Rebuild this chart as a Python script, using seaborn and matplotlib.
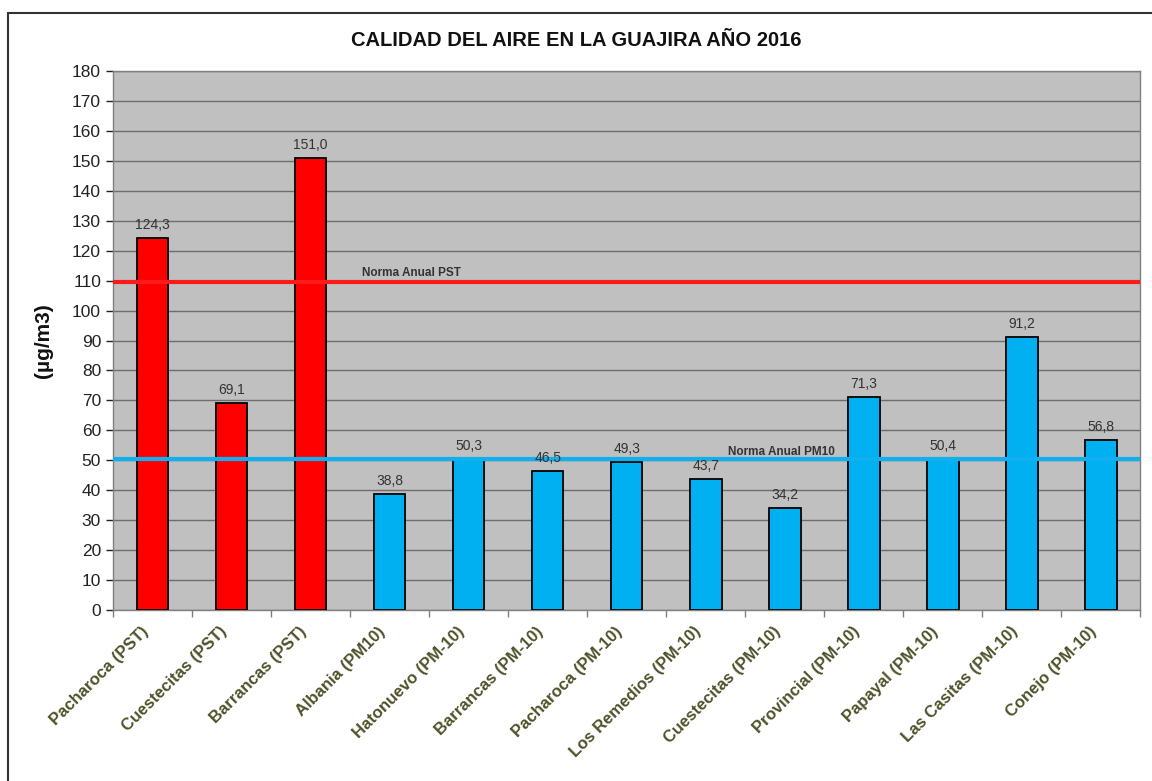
import matplotlib
matplotlib.use("Agg")
import matplotlib.pyplot as plt
import matplotlib.transforms as mtrans
import seaborn as sns
import pandas as pd
from matplotlib.patches import Rectangle

stations = ["Pacharoca (PST)", "Cuestecitas (PST)", "Barrancas (PST)", "Albania (PM10)",
            "Hatonuevo (PM-10)", "Barrancas (PM-10)", "Pacharoca (PM-10)", "Los Remedios (PM-10)",
            "Cuestecitas (PM-10)", "Provincial (PM-10)", "Papayal (PM-10)", "Las Casitas (PM-10)",
            "Conejo (PM-10)"]
values = [124.3, 69.1, 151.0, 38.8, 50.3, 46.5, 49.3, 43.7, 34.2, 71.3, 50.4, 91.2, 56.8]
pollutant = ["PST", "PST", "PST"] + ["PM10"] * 10
norma_pst = 109.5
norma_pm10 = 50.5

df = pd.DataFrame({"station": stations, "value": values, "pollutant": pollutant})

sns.set_theme(style="white")
plt.rcParams['font.family'] = ['Liberation Sans', 'DejaVu Sans']

fig = plt.figure(figsize=(11.52, 7.81), dpi=100)
ax = fig.add_axes([0.098, 0.219, 0.892, 0.690])
ax.set_facecolor("#C0C0C0")

sns.barplot(data=df, x="station", y="value", hue="pollutant",
            palette={"PST": "#FF0000", "PM10": "#00B0F0"}, dodge=False, saturation=1,
            width=0.4, edgecolor="black", linewidth=1.3, legend=False, ax=ax, zorder=3)

ax.set_ylim(0, 180)
ax.set_yticks(range(0, 181, 10))
ax.yaxis.grid(True, color="#6E6E6E", linewidth=1.0, zorder=0)
ax.set_axisbelow(True)
for s in ax.spines.values():
    s.set_color("#808080")
    s.set_linewidth(1.0)

ax.tick_params(axis="y", labelsize=12.5, colors="#222222", length=5, width=1, left=True)
ax.set_xticks(range(len(stations)))
ax.set_xticklabels(stations, rotation=45, ha="right", rotation_mode="anchor",
                   fontsize=12, fontweight="bold", color="#4F5128")
ax.set_xlim(-0.5, len(stations) - 0.5)
ax.set_xticks([i + 0.5 for i in range(-1, len(stations))], minor=True)
ax.tick_params(axis="x", which="major", length=0, pad=10)
ax.tick_params(axis="x", which="minor", length=5, width=1, colors="#808080", bottom=True)
shift = mtrans.ScaledTranslation(-12 / 100, 0, fig.dpi_scale_trans)
for lab in ax.get_xticklabels():
    lab.set_transform(lab.get_transform() + shift)

ax.set_xlabel("")
ax.set_ylabel("(µg/m3)", fontsize=15, fontweight="bold", color="#111111", labelpad=14)

ax.axhline(norma_pst, color="#FF1A1A", linewidth=3, zorder=4)
ax.axhline(norma_pm10, color="#10B0F0", linewidth=3, zorder=4)
ax.text(2.65, norma_pst + 1.2, "Norma Anual PST", fontsize=8.5, fontweight="bold",
        color="#333333", ha="left", va="bottom", zorder=5)
ax.text(7.28, norma_pm10 + 0.3, "Norma Anual PM10", fontsize=8.5, fontweight="bold",
        color="#333333", ha="left", va="bottom", zorder=5)

for i, v in enumerate(values):
    ax.text(i, v + 2.0, f"{v:.1f}".replace(".", ","), ha="center", va="bottom",
            fontsize=10, color="#333333", zorder=5)

fig.text(0.5, 0.948, "CALIDAD DEL AIRE EN LA GUAJIRA AÑO 2016", ha="center", va="center",
         fontsize=14.5, fontweight="bold", color="#111111")

fig.patches.append(Rectangle((0.007, -0.05), 1.1, 1.033, transform=fig.transFigure,
                             fill=False, edgecolor="#333333", linewidth=1.5))

fig.savefig("out.png", dpi=100)
